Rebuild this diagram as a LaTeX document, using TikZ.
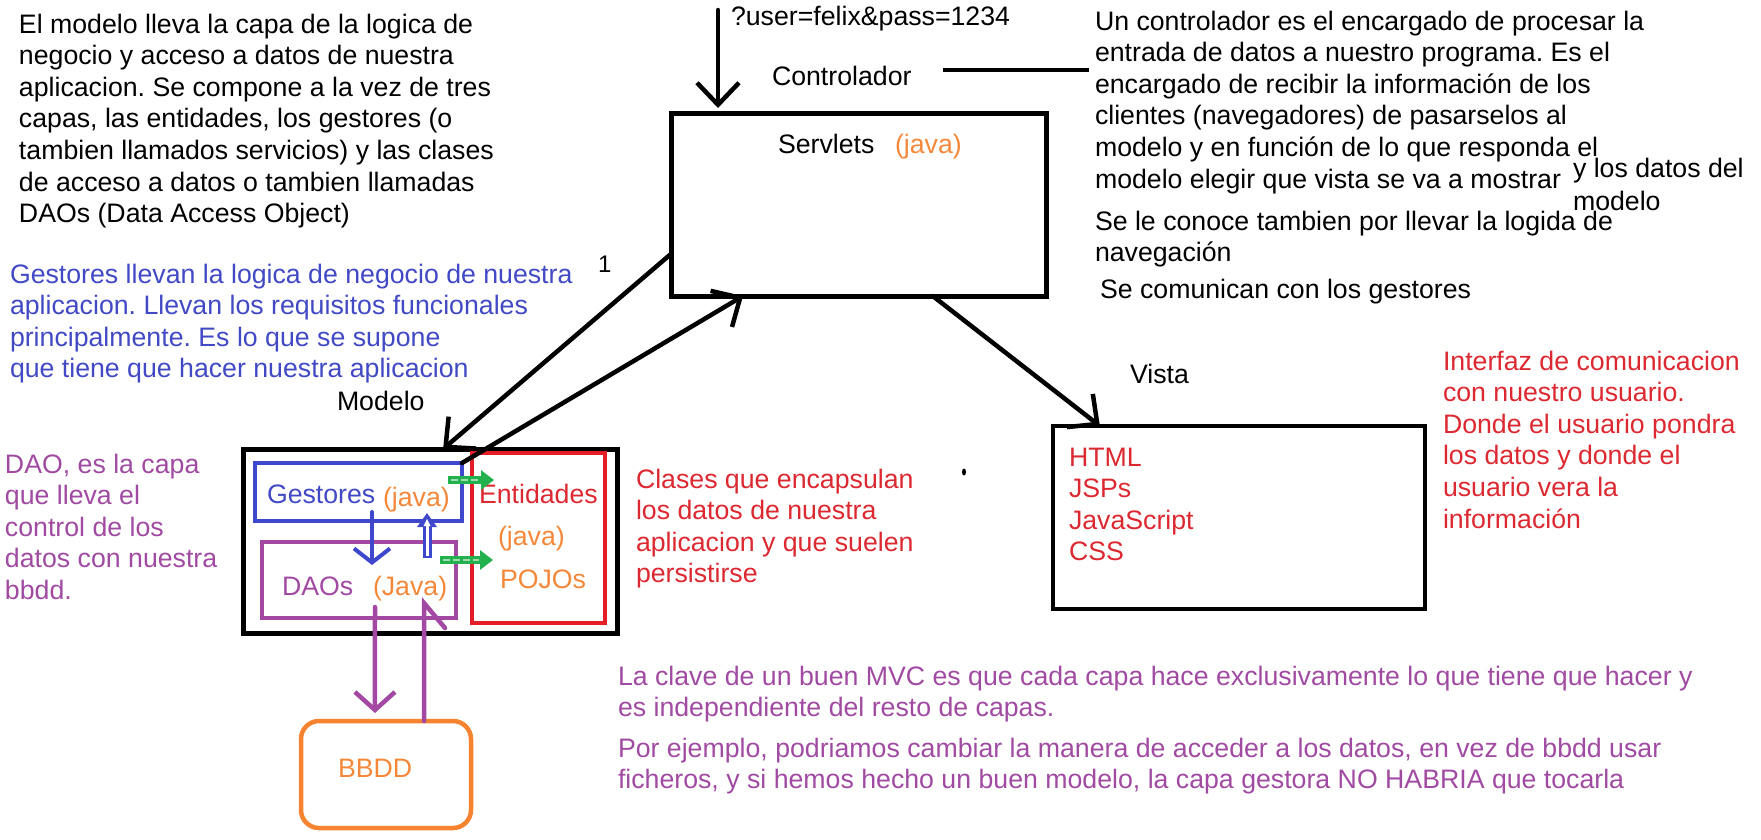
\documentclass[tikz,border=0pt]{standalone}
\usepackage{fontspec}
\setmainfont{Liberation Sans}
\usetikzlibrary{arrows.meta,calc}
\definecolor{blueC}{HTML}{3F48CC}
\definecolor{blueT}{HTML}{4149C4}
\definecolor{purpleC}{HTML}{A349A4}
\definecolor{purpleT}{HTML}{A04AA2}
\definecolor{redC}{HTML}{E41E26}
\definecolor{redT}{HTML}{DC2830}
\definecolor{orangeC}{HTML}{F5832F}
\definecolor{orangeT}{HTML}{F3883A}
\definecolor{greenC}{HTML}{22B14C}
\newcommand{\fsz}{\fontsize{26.7}{31.6}\selectfont\frenchspacing}
\begin{document}
\begin{tikzpicture}[x=1pt,y=-1pt,
  every node/.style={inner sep=0pt,outer sep=0pt,font=\fsz},
  t/.style={anchor=base west},
  para/.style={anchor=north west,align=left},
  box/.style={anchor=north west,inner sep=0pt,outer sep=0pt},
  arr/.style={line width=4.5pt,line cap=round,-{Straight Barb[length=22pt,width=42pt]}},
]
\useasboundingbox (0,0) rectangle (1761,839);

% ---------- boxes ----------
\node[box,draw=black,line width=5pt,minimum width=375pt,minimum height=183pt] (servlets) at (671,113) {};
\node[box,draw=black,line width=5pt,minimum width=374pt,minimum height=184pt] (model) at (243,449) {};
\node[box,draw=redC,line width=4.5pt,minimum width=133pt,minimum height=170pt] (entidades) at (472,453) {};
\node[box,draw=blueC,line width=4pt,minimum width=207pt,minimum height=58pt] (gestores) at (255,463) {};
\node[box,draw=purpleC,line width=4pt,minimum width=194pt,minimum height=76pt] (daos) at (262,542) {};
\node[box,draw=black,line width=4.5pt,minimum width=372pt,minimum height=183pt] (vista) at (1053,426) {};
\node[box,draw=orangeC,line width=4.5pt,rounded corners=18pt,minimum width=170pt,minimum height=107pt] (bbdd) at (301,721) {};

% ---------- labels ----------
\node[t] (query) at (731,25) {?user=felix\&pass=1234};
\node[t] (ctrlT) at (772,85) {Controlador};
\node[t] (servletsT) at (778,153) {Servlets};
\node[t,text=orangeT] (servletsJ) at (895,153) {(java)};
\node[t,font=\fontsize{24}{28}\selectfont] (one) at (598,272) {1};
\node[t] (modeloT) at (337,410) {Modelo};
\node[t] (vistaT) at (1130,383) {Vista};
\node[t,text=blueT] (gestT) at (267,503) {Gestores};
\node[t,text=orangeT] (gestJ) at (383,506) {(java)};
\node[t,text=redT] (entT) at (479,503) {Entidades};
\node[t,text=orangeT] (entJ) at (498,545) {(java)};
\node[t,text=orangeT] (pojos) at (500,588) {POJOs};
\node[t,text=purpleT] (daosT) at (282,595) {DAOs};
\node[t,text=orangeT] (daosJ) at (373,595) {(Java)};
\node[t,text=orangeT] (bbddT) at (338,777) {BBDD};
\node[t] (ylos) at (1573,177) {y los datos del};
\node[t] (ylos2) at (1573,210) {modelo};

% ---------- paragraphs ----------
\node[para] (intro) at (19,13.8) {El modelo lleva la capa de la logica de\\negocio y acceso a datos de nuestra\\aplicacion. Se compone a la vez de tres\\capas, las entidades, los gestores (o\\tambien llamados servicios) y las clases\\de acceso a datos o tambien llamadas\\DAOs (Data Access Object)};
\node[para] (ctrlP) at (1095,10.8) {Un controlador es el encargado de procesar la\\entrada de datos a nuestro programa. Es el\\encargado de recibir la información de los\\clientes (navegadores) de pasarselos al\\modelo y en función de lo que responda el\\modelo elegir que vista se va a mostrar};
\node[para] (navP) at (1095,210.8) {Se le conoce tambien por llevar la logida de\\navegación};
\node[t] (comP) at (1100,298) {Se comunican con los gestores};
\node[para,text=blueT] (gestP) at (10,263.8) {Gestores llevan la logica de negocio de nuestra\\aplicacion. Llevan los requisitos funcionales\\principalmente. Es lo que se supone\\que tiene que hacer nuestra aplicacion};
\node[para,text=purpleT] (daoP) at (5,453.8) {DAO, es la capa\\que lleva el\\control de los\\datos con nuestra\\bbdd.};
\node[para,text=redT] (clasesP) at (636,468.8) {Clases que encapsulan\\los datos de nuestra\\aplicacion y que suelen\\persistirse};
\node[para,text=redT] (vistaP) at (1443,350.8) {Interfaz de comunicacion\\con nuestro usuario.\\Donde el usuario pondra\\los datos y donde el\\usuario vera la\\información};
\node[para,text=redT] (techP) at (1069,447.8) {HTML\\JSPs\\JavaScript\\CSS};
\node[para,text=purpleT] (mvcP) at (618,665.8) {La clave de un buen MVC es que cada capa hace exclusivamente lo que tiene que hacer y\\es independiente del resto de capas.};
\node[para,text=purpleT] (ejP) at (618,737.8) {Por ejemplo, podriamos cambiar la manera de acceder a los datos, en vez de bbdd usar\\ficheros, y si hemos hecho un buen modelo, la capa gestora NO HABRIA que tocarla};

% ---------- connectors ----------
\coordinate (req) at (718,10);
\draw[arr,shorten >=5pt] (req) -- (req |- servlets.north);
\coordinate (lineA) at (943,70);
\coordinate (lineB) at (1089,70);
\draw[line width=4.5pt] (lineA) -- (lineB);

\draw[arr] ($(servlets.north west)!0.77!(servlets.south west)$) -- ($(model.north west)!0.535!(model.north east)$);
\draw[arr] (gestores.north east) -- ($(servlets.south west)!0.192!(servlets.south east)$);
\draw[arr] ($(servlets.south west)!0.698!(servlets.south east)$) -- ($(vista.north west)!0.126!(vista.north east)$);

% inside the model
\coordinate (bd1) at (372,512);
\coordinate (bd2) at (372,565);
\draw[blueC,line width=4pt,line cap=round,-{Straight Barb[length=14pt,width=36pt]}] (bd1) -- (bd2);
\coordinate (bu1) at (427,558);
\coordinate (bu2) at (427,513);
\draw[blueC,line width=9pt,-{Triangle[length=14pt,width=19pt]}] (bu1) -- (bu2);
\draw[white,line width=3pt] (427,556) -- (427,524);
\fill[white] (427,519) -- (423.5,526) -- (430.5,526) -- cycle;

\coordinate (g1a) at (448,480);
\coordinate (g1b) at (494,480);
\draw[greenC,line width=8pt,-{Triangle[length=13pt,width=19pt]}] (g1a) -- (g1b);
\draw[white!55!greenC,line width=1.8pt,dash pattern=on 7pt off 3pt] (451,480) -- (480,480);
\coordinate (g2a) at (440,560);
\coordinate (g2b) at (493,560);
\draw[greenC,line width=8pt,-{Triangle[length=13pt,width=19pt]}] (g2a) -- (g2b);
\draw[white!55!greenC,line width=1.8pt,dash pattern=on 7pt off 3pt] (443,560) -- (479,560);

% DAOs <-> BBDD
\coordinate (pd1) at (375,607);
\draw[purpleC,line width=4.5pt,line cap=round,-{Straight Barb[length=18pt,width=40pt]},shorten >=8pt] (pd1) -- ($(bbdd.north west)!0.435!(bbdd.north east)$);
\coordinate (pu2) at (424,603);
\draw[purpleC,line width=4.5pt,line cap=round] ($(bbdd.north west)!0.724!(bbdd.north east)$) -- (pu2) -- ++(21,25);

% stray mark
\fill (964,472) ellipse [x radius=2pt, y radius=3.5pt];
\end{tikzpicture}
\end{document}
